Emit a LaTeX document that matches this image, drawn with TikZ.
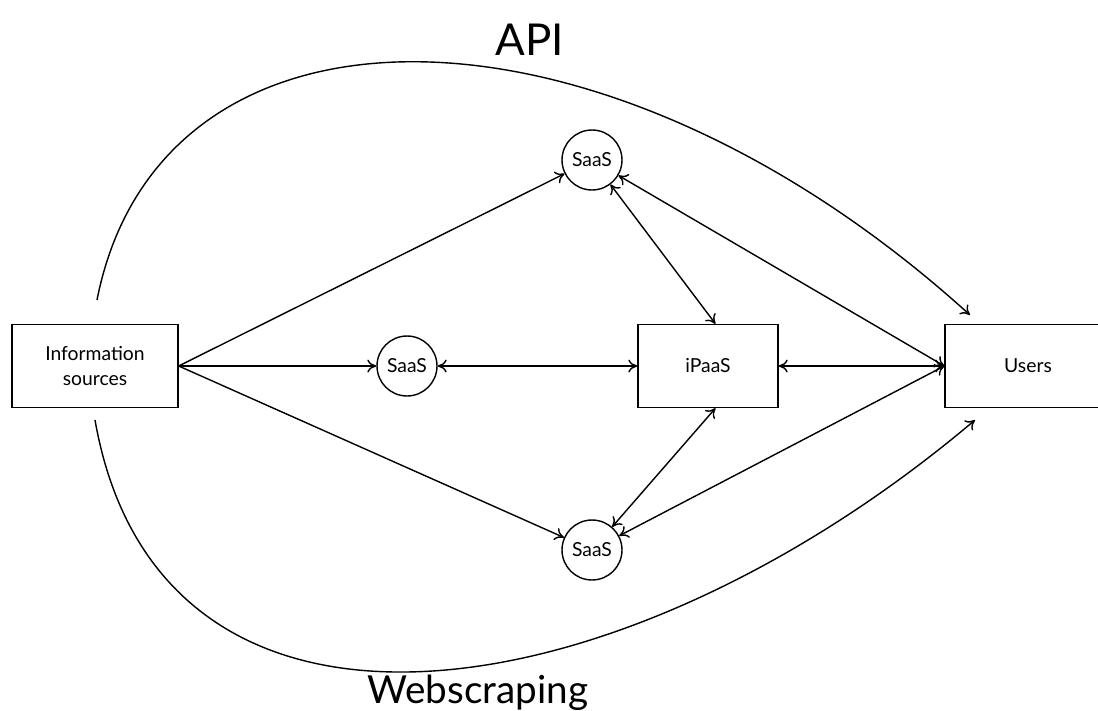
\documentclass[tikz,border=0pt]{standalone}
\usepackage{fontspec}
\setmainfont{Lato}
\usepackage{tikz}
\usetikzlibrary{arrows.meta}
\tikzset{
  box/.style={draw,thick,minimum height=1.66cm,align=center,font=\fontsize{11}{14.5}\selectfont},
  saas/.style={draw,thick,circle,minimum size=1.2cm,inner sep=0pt,font=\fontsize{11}{13}\selectfont},
  ar/.style={-{To[length=1.8mm,width=2.6mm]},thick},
  bar/.style={{To[length=1.8mm,width=2.6mm]}-{To[length=1.8mm,width=2.6mm]},thick},
  big/.style={font=\fontsize{25}{30}\selectfont}
}
\begin{document}
\begin{tikzpicture}[x=0.02cm,y=-0.02cm]
\useasboundingbox (0,0) rectangle (1098,710);
% boxes and platforms
\node[box,minimum width=3.32cm] (info) at (95,366) {Information\\sources};
\node[saas] (smid) at (407,366) {SaaS};
\node[saas] (stop) at (592,160) {SaaS};
\node[saas] (sbot) at (592,550) {SaaS};
\node[box,minimum width=2.8cm] (ipaas) at (708,366) {iPaaS};
\node[box,minimum width=3.32cm] (users) at (1028,366) {Users};
% labels
\node[big] (api) at (530,40) {API};
\node[big,font=\fontsize{22}{26}\selectfont] (web) at (478,693) {Webscraping};
% free ends of the curves
\coordinate (apis) at (97,300);
\coordinate (apie) at (970,315);
\coordinate (webs) at (95,420);
\coordinate (webe) at (975,420);
% links
\draw[ar] (info.east) -- (stop);
\draw[ar] (info.east) -- (smid);
\draw[ar] (info.east) -- (sbot);
\draw[bar] (smid) -- (ipaas);
\draw[bar] (ipaas.80) -- (stop);
\draw[bar] (ipaas.-80) -- (sbot);
\draw[bar] (users.west) -- (stop);
\draw[bar] (users.west) -- (sbot);
\draw[bar] (ipaas) -- (users);
\draw[ar] (apis) .. controls (160,-20) and (600,-20) .. (apie);
\draw[ar] (webs) .. controls (160,790) and (620,720) .. (webe);
\end{tikzpicture}
\end{document}
